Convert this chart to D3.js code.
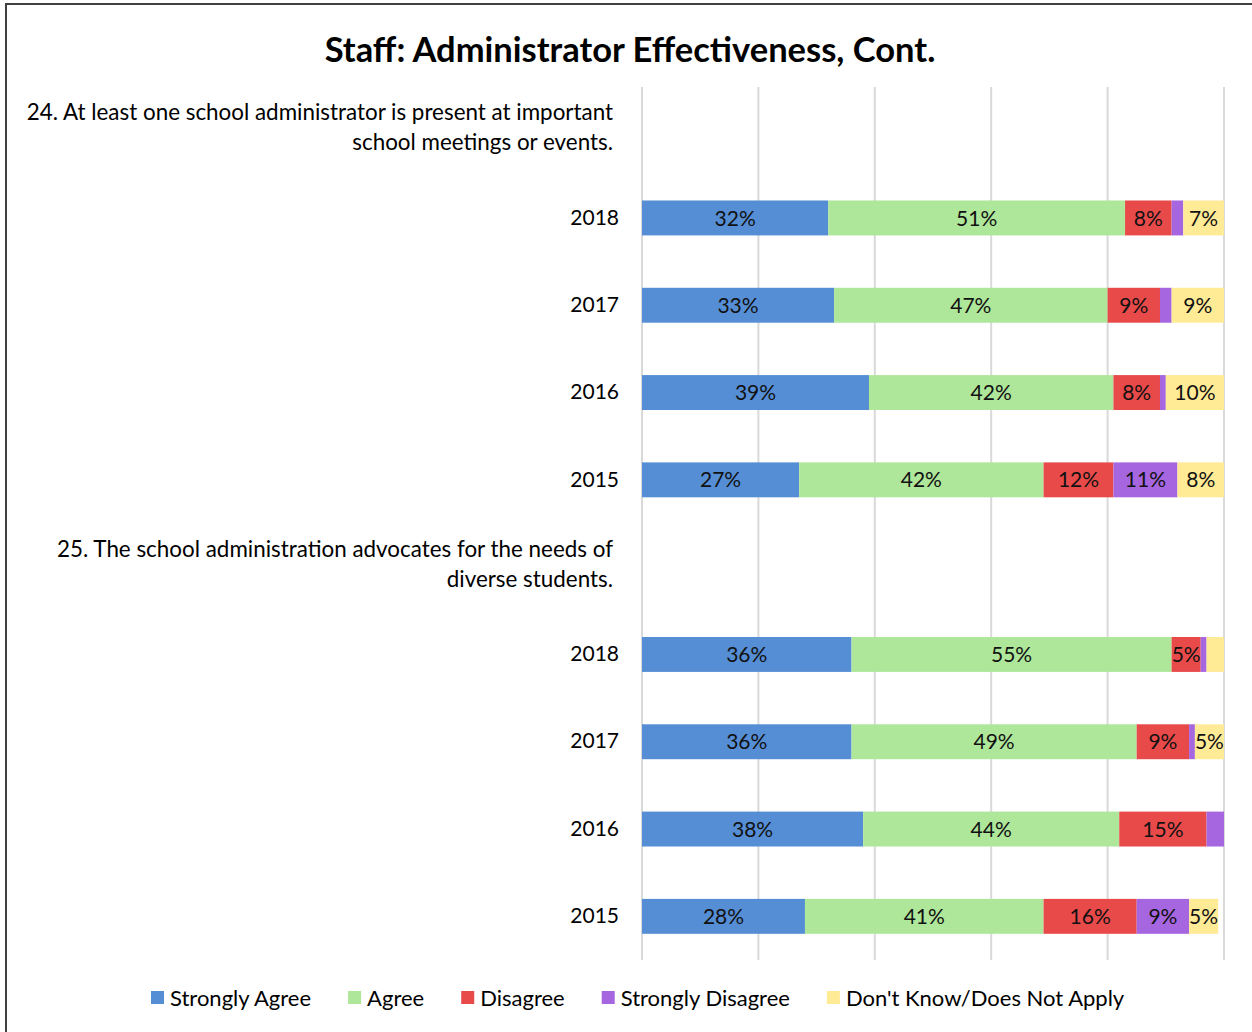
<!DOCTYPE html>
<html>
<head>
<meta charset="utf-8">
<script src="https://cdn.jsdelivr.net/npm/d3@7"></script>
<style>
  html, body { margin: 0; padding: 0; background: #fff; }
  svg { display: block; font-family: Lato, "Open Sans", sans-serif; }
</style>
</head>
<body>
<svg id="chart" width="1252" height="1032"></svg>
<script>
// Survey questions and response years
const questions = [
  ["24. At least one school administrator is present at important", "school meetings or events."],
  ["25. The school administration advocates for the needs of", "diverse students."]
];
const years = ["2018", "2017", "2016", "2015"];
const seriesNames = ["Strongly Agree", "Agree", "Disagree", "Strongly Disagree", "Don't Know/Does Not Apply"];
const seriesColors = ["#558ED5", "#AEE69A", "#E84A4A", "#A566E0", "#FFEA96"];

// Percent of respondents, ordered Q24 (2018..2015) then Q25 (2018..2015)
const stronglyAgree    = [32, 33, 39, 27, 36, 36, 38, 28];
const agree            = [51, 47, 42, 42, 55, 49, 44, 41];
const disagree         = [8, 9, 8, 12, 5, 9, 15, 16];
const stronglyDisagree = [2, 2, 1, 11, 1, 1, 3, 9];
const dontKnow         = [7, 9, 10, 8, 3, 5, 0, 5];

const xTicks = [0, 20, 40, 60, 80, 100];

// Build the category rows: a header row per question followed by its years
const rows = [];
let k = 0;
questions.forEach((q, qi) => {
  rows.push({ id: "q" + qi, header: true, lines: q });
  years.forEach(y => {
    rows.push({
      id: "q" + qi + "-" + y, header: false, label: y,
      values: [stronglyAgree[k], agree[k], disagree[k], stronglyDisagree[k], dontKnow[k]]
    });
    k++;
  });
});

const svg = d3.select("#chart");

// Outer chart frame
svg.append("rect")
  .attr("x", 6).attr("y", 4).attr("width", 1270).attr("height", 1060)
  .attr("fill", "#fff").attr("stroke", "#404040").attr("stroke-width", 2);

// Title
svg.append("text")
  .attr("x", 630).attr("y", 62)
  .attr("text-anchor", "middle")
  .attr("font-size", 34.5).attr("font-weight", 700).attr("fill", "#000")
  .text("Staff: Administrator Effectiveness, Cont.");

const x = d3.scaleLinear().domain([0, 100]).range([642, 1224]);
const y = d3.scaleBand().domain(rows.map(r => r.id)).range([87, 960])
  .paddingInner(0.6).paddingOuter(0.3);

// Vertical gridlines
svg.append("g")
  .selectAll("line").data(xTicks).join("line")
  .attr("x1", d => x(d)).attr("x2", d => x(d))
  .attr("y1", 87).attr("y2", 960)
  .attr("stroke", "#d9d9d9").attr("stroke-width", 2);

// Category axis with year labels and wrapped question headers
const yAxis = d3.axisLeft(y).tickSize(0).tickPadding(23).tickFormat(() => "");
const axisG = svg.append("g").attr("transform", "translate(642,0)").call(yAxis);
axisG.select(".domain").remove();
axisG.selectAll(".tick").each(function(id) {
  const row = rows.find(r => r.id === id);
  const t = d3.select(this).select("text")
    .attr("font-family", "Lato, 'Open Sans', sans-serif")
    .attr("fill", "#000");
  if (row.header) {
    t.attr("font-size", 22.4).attr("x", -29).attr("dy", null).attr("y", -18);
    row.lines.forEach((line, i) => {
      t.append("tspan").attr("x", -29).attr("dy", i === 0 ? "0.35em" : 30).text(line);
    });
  } else {
    t.attr("font-size", 21).text(row.label);
  }
});

// Stacked segments
const stackRows = rows.filter(r => !r.header);
const segments = [];
stackRows.forEach(r => {
  let acc = 0;
  r.values.forEach((v, i) => {
    segments.push({ row: r.id, i, v, x0: acc, x1: acc + v });
    acc += v;
  });
});

const barG = svg.append("g");
barG.selectAll("rect").data(segments.filter(s => s.v > 0)).join("rect")
  .attr("x", d => x(d.x0))
  .attr("y", d => y(d.row))
  .attr("width", d => x(d.x1) - x(d.x0))
  .attr("height", y.bandwidth())
  .attr("fill", d => seriesColors[d.i]);

barG.selectAll("text").data(segments.filter(s => s.v >= 5)).join("text")
  .attr("x", d => (x(d.x0) + x(d.x1)) / 2)
  .attr("y", d => y(d.row) + y.bandwidth() / 2)
  .attr("dy", "0.36em")
  .attr("text-anchor", "middle")
  .attr("font-size", 21).attr("fill", "#111")
  .text(d => d.v + "%");

// Legend
const legend = svg.append("g").attr("transform", "translate(0,998)");
let lx = 151;
seriesNames.forEach((name, i) => {
  const g = legend.append("g").attr("transform", `translate(${lx},0)`);
  g.append("rect").attr("x", 0).attr("y", -7).attr("width", 13).attr("height", 13)
    .attr("fill", seriesColors[i]);
  const t = g.append("text").attr("x", 19).attr("y", 0).attr("dy", "0.35em")
    .attr("font-size", 22).attr("fill", "#000").text(name);
  lx += 19 + t.node().getComputedTextLength() + 37;
});
</script>
</body>
</html>
